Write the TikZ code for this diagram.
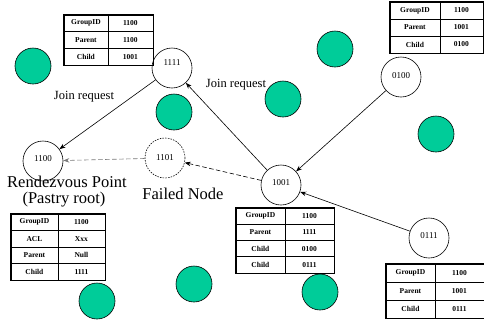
\documentclass[tikz,border=0pt]{standalone}
\usepackage{fontspec}
\setmainfont{Liberation Serif}
\usetikzlibrary{matrix,arrows.meta}

\definecolor{peer}{RGB}{0,204,153}
\definecolor{lostlink}{RGB}{120,120,120}

\newcommand{\tabfont}{\fontsize{7.5bp}{8bp}\selectfont\bfseries}
\newcommand{\idfont}{\fontsize{9bp}{10bp}\selectfont}
\newcommand{\capfont}{\fontsize{12.5bp}{14bp}\selectfont}
\newcommand{\bigfont}{\fontsize{16.5bp}{17bp}\selectfont}

\tikzset{
  x=1bp, y=-1bp,
  pnode/.style={circle, draw, line width=0.6bp, minimum size=40bp, inner sep=0pt, fill=white},
  deadnode/.style={pnode, dash pattern=on 1.5bp off 1.2bp},
  other/.style={circle, draw=black, line width=0.6bp, fill=peer, minimum size=36bp, inner sep=0pt},
  link/.style={line width=0.6bp, -{Stealth[length=6bp,width=4.5bp]}},
  dlink/.style={link, dash pattern=on 4.5bp off 2.5bp},
  tbl/.style={matrix of nodes, draw, line width=1.4bp, inner sep=0pt,
    column sep=-0.5bp, row sep=-0.5bp,
    nodes={draw, line width=0.5bp, inner sep=0pt, font=\tabfont,
           minimum height=#1, anchor=center}},
}

\begin{document}
\begin{tikzpicture}
\useasboundingbox[fill=white] (0,0) rectangle (484,320);

% other peers of the overlay
\foreach \px/\py [count=\k] in {33/66, 174/112, 335/49, 283/99, 436/134, 97/301, 194/284, 320/292}
  \node[other] (peer\k) at (\px,\py) {};

% peers on the multicast tree
\node[pnode] (n1100) at (43,161) {};
\node[font=\idfont] (t1100) at (43,159) {1100};
\node[pnode] (n1111) at (172,68) {};
\node[font=\idfont] (t1111) at (172,63) {1111};
\node[deadnode] (n1101) at (165,158) {};
\node[font=\idfont] (t1101) at (165,158) {1101};
\node[pnode] (n1001) at (281,185) {};
\node[font=\idfont] (t1001) at (281,183) {1001};
\node[pnode] (n0100) at (401,77) {};
\node[font=\idfont] (t0100) at (401,76) {0100};
\node[pnode] (n0111) at (429,238) {};
\node[font=\idfont] (t0111) at (429,236) {0111};

% join requests and repair path
\draw[link] (n1111) -- (n1100);
\draw[link] (n1001) -- (n1111);
\draw[link] (n0100) -- (n1001);
\draw[link] (n0111) -- (n1001);
\draw[dlink, draw=lostlink] (n1101) -- (n1100);
\draw[dlink] (n1001) -- (n1101);

% captions
\node[font=\capfont] (jr1) at (84,97) {Join request};
\node[font=\capfont] (jr2) at (236,85) {Join request};
\node[font=\bigfont, inner sep=0pt] (rp1) at (67,182) {Rendezvous Point};
\node[font=\bigfont, inner sep=0pt] (rp2) at (64,200) {(Pastry root)};
\node[font=\bigfont, inner sep=0pt] (fn) at (183,194) {Failed Node};

% per-node multicast state
\matrix[tbl=16.7bp, anchor=north west, column 1/.style={nodes={minimum width=44bp}},
        column 2/.style={nodes={minimum width=45bp}}] (tA) at (63,14) {
  GroupID & 1100 \\ Parent & 1100 \\ Child & 1001 \\};
\matrix[tbl=17bp, anchor=north west, column 1/.style={nodes={minimum width=50bp}},
        column 2/.style={nodes={minimum width=43bp}}] (tB) at (389,1) {
  GroupID & 1100 \\ Parent & 1001 \\ Child & 0100 \\};
\matrix[tbl=16.5bp, anchor=north west, column 1/.style={nodes={minimum width=47bp}},
        column 2/.style={nodes={minimum width=47bp}}] (tC) at (10,213) {
  GroupID & 1100 \\ ACL & Xxx \\ Parent & Null \\ Child & 1111 \\};
\matrix[tbl=16.25bp, anchor=north west, column 1/.style={nodes={minimum width=49bp}},
        column 2/.style={nodes={minimum width=49bp}}] (tD) at (235,207) {
  GroupID & 1100 \\ Parent & 1111 \\ Child & 0100 \\ Child & 0111 \\};
\matrix[tbl=18bp, anchor=north west, column 1/.style={nodes={minimum width=49bp}},
        column 2/.style={nodes={minimum width=49bp}}] (tE) at (385,263) {
  GroupID & 1100 \\ Parent & 1001 \\ Child & 0111 \\};
\end{tikzpicture}
\end{document}
